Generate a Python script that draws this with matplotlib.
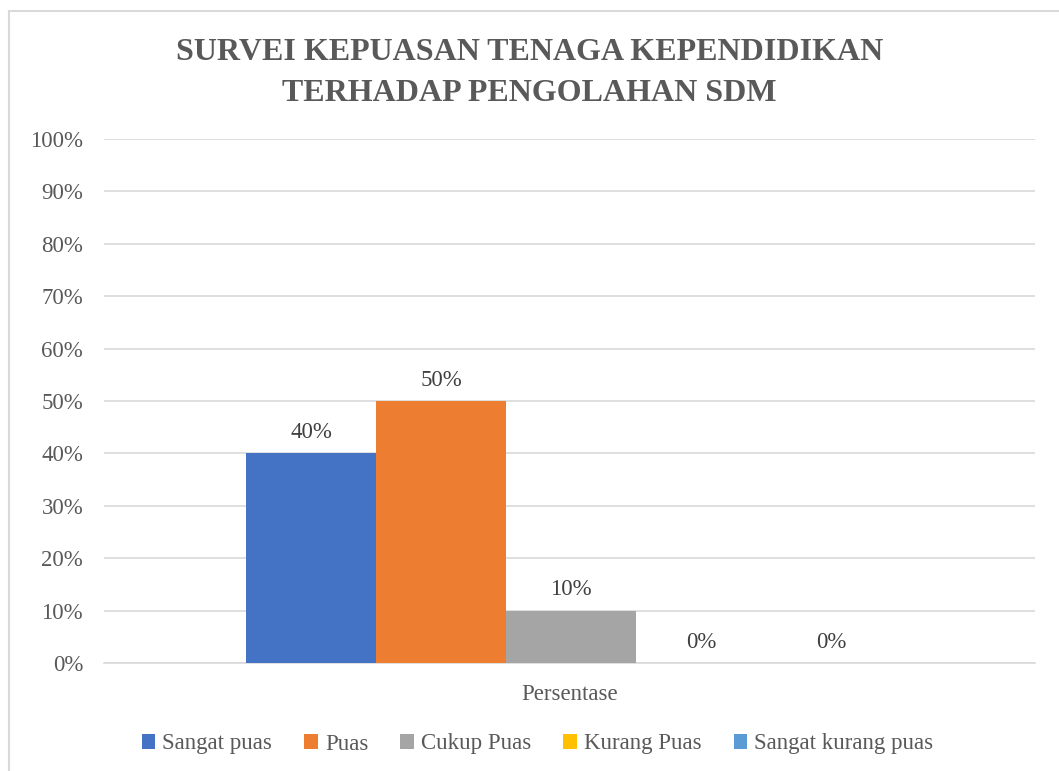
import numpy as np
import matplotlib.pyplot as plt
from matplotlib.patches import Rectangle

kategori = ['Persentase']
seri = ['Sangat puas', 'Puas', 'Cukup Puas', 'Kurang Puas', 'Sangat kurang puas']
nilai = [0.40, 0.50, 0.10, 0.00, 0.00]
warna = ['#4472C4', '#ED7D31', '#A5A5A5', '#FFC000', '#5B9BD5']
yticks = np.arange(0, 1.01, 0.1)

plt.rcParams['font.family'] = ['Liberation Serif', 'DejaVu Serif']
abu = '#595959'
fs = 16.5

fig = plt.figure(figsize=(10.59, 7.71), dpi=100)
fig.patches.append(Rectangle((9 / 1059, -0.01), 1.02, 1 - 11 / 771 + 0.01,
                             transform=fig.transFigure, fill=False,
                             edgecolor='#d9d9d9', linewidth=1.5))
ax = fig.add_axes([104 / 1059, 108 / 771, 931 / 1059, 524 / 771])

lebar = 130 / 931
awal = -0.5 + 142 / 931
for i, (s, v, c) in enumerate(zip(seri, nilai, warna)):
    x = awal + lebar * (i + 0.5)
    ax.bar(x, v, width=lebar, color=c, label=s, zorder=3)
    ax.text(x, v + 0.02, f'{v:.0%}', ha='center', va='bottom',
            fontsize=fs, color='#404040')

ax.set_xlim(-0.5, 0.5)
ax.set_ylim(0, 1.0)
ax.set_yticks(yticks)
ax.set_yticklabels([f'{t:.0%}' for t in yticks], fontsize=fs, color=abu)
ax.set_xticks([0])
ax.set_xticklabels(kategori, fontsize=fs, color=abu)
ax.tick_params(length=0, axis='y', pad=15)
ax.tick_params(length=0, axis='x', pad=15)
ax.grid(axis='y', color='#d9d9d9', linewidth=1.2, zorder=0)
for sp in ['top', 'right', 'left']:
    ax.spines[sp].set_visible(False)
ax.spines['bottom'].set_color('#d9d9d9')
ax.spines['bottom'].set_linewidth(1.2)

fig.text(0.5, 1 - 73 / 771, 'SURVEI KEPUASAN TENAGA KEPENDIDIKAN\nTERHADAP PENGOLAHAN SDM',
         ha='center', va='center', fontsize=23, fontweight='bold', color=abu,
         linespacing=1.55)

fig.legend(loc='center', bbox_to_anchor=(0.5 + 8 / 1059, 1 - 744 / 771), ncol=5,
           frameon=False, fontsize=fs, handlelength=0.6, handleheight=0.6,
           handletextpad=0.3, columnspacing=1.4, labelcolor=abu)

fig.savefig('out.png', dpi=100)
